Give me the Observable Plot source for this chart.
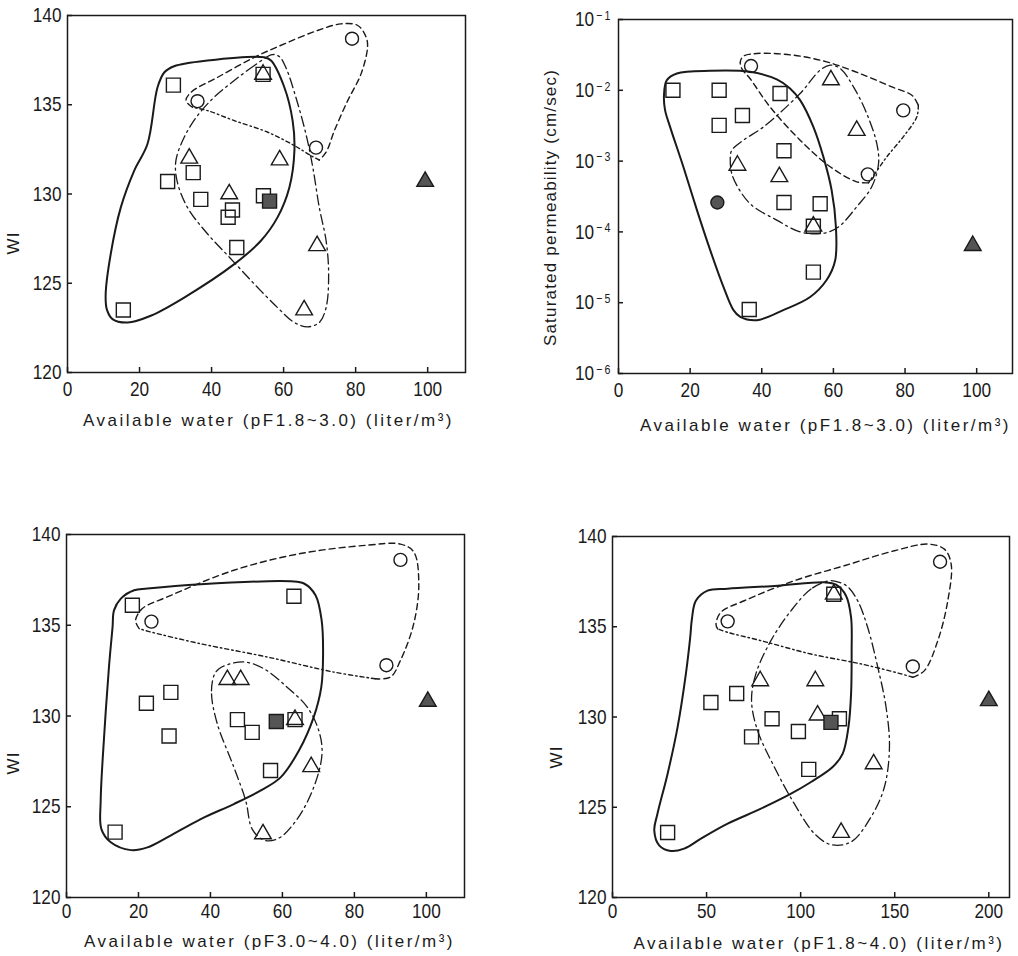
<!DOCTYPE html>
<html><head><meta charset="utf-8">
<script src="https://cdn.jsdelivr.net/npm/d3@7"></script>
<script src="https://cdn.jsdelivr.net/npm/@observablehq/plot@0.6"></script>
<style>
body{margin:0;background:#fff;}
#wrap{position:relative;width:1018px;height:956px;background:#fff;overflow:hidden}
.panel{position:absolute}
.panel svg{overflow:visible;background:transparent}
g[aria-label="x-axis tick label"] text, g[aria-label="y-axis tick label"] text{
  font-family:"Liberation Sans",Arial,sans-serif;
  font-size:21px;fill:#1a1a1a;}
</style></head><body><div id="wrap"></div>
<script>
// ---------- tick values ----------
const xTicks100 = [0, 20, 40, 60, 80, 100];
const xTicks200 = [0, 50, 100, 150, 200];
const wiTicks = [120, 125, 130, 135, 140];
const kTicks = [1e-1, 1e-2, 1e-3, 1e-4, 1e-5, 1e-6];

const label1 = "Available water (pF1.8~3.0) (liter/m³)";
const label3 = "Available water (pF3.0~4.0) (liter/m³)";
const label4 = "Available water (pF1.8~4.0) (liter/m³)";
const labelWI = "WI";
const labelK = "Saturated permeability (cm/sec)";

// ---------- Panel 1: WI vs available water pF1.8-3.0 ----------
const p1Squares = [[15.5,123.5],[29.4,136.1],[27.8,130.7],[34.9,131.2],[37.0,129.7],[45.8,129.1],[44.6,128.7],[47.0,127.0],[54.3,136.7],[54.4,129.9]];
const p1SquaresFilled = [[56.1,129.6]];
const p1Triangles = [[33.8,132.0],[44.9,130.0],[54.3,136.7],[58.9,131.9],[69.3,127.1],[65.7,123.5]];
const p1TrianglesFilled = [[99.3,130.7]];
const p1Circles = [[36.1,135.2],[69.0,132.6],[79.0,138.7]];
const p1SquareHull = [[10.9,123.55],[12.5,122.99],[16.7,122.8],[23.1,123.18],[32.4,124.2],[46.3,126.07],[53.7,127.38],[58.3,128.69],[61.6,130.37],[63.0,132.43],[62.5,134.11],[60.2,135.98],[56.5,137.48],[54.6,137.66],[38.9,137.48],[29.6,137.16],[26.9,136.82],[25.0,135.98],[22.2,132.8],[18.5,131.3],[14.8,129.25],[12.0,126.64],[10.6,124.4]];
const p1TriangleHull = [[56.9,137.81],[51.9,137.2],[46.3,136.36],[40.7,135.42],[36.1,134.39],[32.4,133.18],[30.1,131.87],[30.4,130.75],[33.3,129.25],[38.9,127.76],[45.4,126.36],[51.9,124.95],[58.3,123.64],[63.0,122.8],[66.7,122.56],[69.9,122.8],[71.8,123.64],[72.5,125.51],[71.8,127.38],[69.9,129.25],[68.1,131.5],[66.2,133.36],[63.4,135.42],[60.6,137.1],[58.8,137.7]];
const p1CircleHullDashed = [[34.7,134.86],[32.9,135.23],[34.3,135.7],[41.7,136.54],[51.9,137.66],[60.2,138.41],[69.4,139.16],[75.9,139.53],[80.6,139.44],[82.9,138.79],[83.3,138.22],[81.5,136.73],[77.8,135.23],[74.1,133.55],[71.8,132.34],[69.9,131.9]];
const p1CircleHullDotted = [[69.9,131.9],[67.6,132.15],[63.0,132.71],[55.6,133.46],[46.3,134.11],[38.9,134.67],[34.7,134.86]];

// ---------- Panel 2: saturated permeability vs available water pF1.8-3.0 ----------
const p2Squares = [[15.2,1.0e-2],[28.1,1.0e-2],[28.1,3.2e-3],[34.6,4.4e-3],[45.1,9.0e-3],[46.2,1.4e-3],[46.2,2.6e-4],[56.3,2.5e-4],[54.4,1.2e-4],[54.4,2.7e-5],[36.5,8.0e-6]];
const p2Triangles = [[33.2,8.7e-4],[44.9,6.0e-4],[59.3,1.4e-2],[66.5,2.7e-3],[54.4,1.2e-4]];
const p2TrianglesFilled = [[98.9,6.4e-5]];
const p2Circles = [[37.0,2.2e-2],[79.5,5.2e-3],[69.6,6.5e-4]];
const p2CirclesFilled = [[27.6,2.6e-4]];
// outlines as [x, log10(k)]
const p2SquareHull = [[12.7,-2.069],[13.5,-1.857],[16.3,-1.763],[25.6,-1.725],[36.7,-1.739],[44.2,-1.847],[47.9,-1.975],[50.7,-2.139],[54.4,-2.516],[57.2,-2.94],[59.5,-3.41],[60.7,-3.93],[60.5,-4.40],[58.1,-4.68],[53.5,-4.92],[46.0,-5.105],[38.6,-5.247],[34.0,-5.20],[32.1,-5.105],[29.3,-4.776],[25.6,-4.258],[21.9,-3.693],[18.1,-3.08],[14.4,-2.516],[13.0,-2.28]];
const p2TriangleHull = [[31.2,-2.987],[31.9,-3.22],[36.7,-3.60],[44.2,-3.834],[50.7,-4.0],[57.2,-4.02],[61.4,-3.93],[66.5,-3.646],[70.7,-3.363],[72.6,-3.034],[72.1,-2.751],[69.3,-2.328],[65.6,-1.951],[61.9,-1.692],[59.1,-1.645],[56.3,-1.716],[50.7,-2.045],[40.5,-2.516],[34.9,-2.704],[31.6,-2.85]];
const p2CircleHullDashed = [[69.8,-3.307],[66.5,-3.293],[59.1,-3.08],[50.7,-2.704],[42.3,-2.234],[36.7,-1.833],[34.4,-1.692],[34.0,-1.598],[34.9,-1.518],[38.6,-1.48],[48.8,-1.504],[58.1,-1.598],[67.4,-1.763],[76.7,-1.96],[81.9,-2.069],[83.7,-2.21]];
const p2CircleHullDotted = [[83.7,-2.21],[83.3,-2.375],[79.5,-2.657],[74.9,-2.94],[71.6,-3.175],[69.8,-3.307]];

// ---------- Panel 3: WI vs available water pF3.0-4.0 ----------
const p3Squares = [[13.5,123.6],[18.3,136.1],[22.2,130.7],[29.0,131.3],[28.5,128.9],[47.5,129.8],[51.6,129.1],[56.7,127.0],[63.2,136.6],[63.5,129.8]];
const p3SquaresFilled = [[58.3,129.7]];
const p3Triangles = [[44.7,132.0],[48.4,132.0],[63.5,129.8],[68.0,127.2],[54.6,123.5]];
const p3TrianglesFilled = [[100.4,130.8]];
const p3Circles = [[23.6,135.2],[88.9,132.8],[92.8,138.6]];
const p3SquareHull = [[13.2,135.82],[15.1,136.47],[18.8,136.93],[22.5,137.02],[37.3,137.26],[62.3,137.42],[66.0,137.30],[69.2,136.65],[70.9,135.27],[71.3,133.43],[70.8,131.59],[68.7,129.94],[64.6,128.1],[59.5,126.62],[53.9,125.89],[46.5,125.15],[37.3,124.32],[28.0,123.31],[22.5,122.76],[17.9,122.61],[12.3,123.04],[9.7,123.77],[9.5,125.34],[10.5,129.02],[11.8,132.7],[12.8,134.9]];
const p3TriangleHull = [[41.0,132.24],[40.3,131.22],[41.9,129.57],[46.5,127.18],[49.8,125.34],[51.6,123.77],[54.9,123.16],[59.0,123.27],[64.1,124.32],[68.7,126.07],[71.0,127.91],[70.1,129.2],[66.9,130.49],[61.3,131.59],[54.9,132.6],[49.8,132.97],[45.6,132.88],[42.4,132.6]];
const p3CircleHullDashed = [[20.2,134.81],[19.2,135.27],[21.1,135.92],[28.0,136.56],[46.5,138.03],[65.0,138.95],[83.5,139.41],[92.8,139.47],[96.5,139.04],[97.9,137.3],[96.5,135.09],[92.8,133.06],[90.0,132.14],[85.8,132.05]];
const p3CircleHullDotted = [[85.8,132.05],[74.3,132.42],[55.8,133.25],[37.3,133.98],[23.4,134.63],[20.2,134.81]];

// ---------- Panel 4: WI vs available water pF1.8-4.0 ----------
const p4Squares = [[29.3,123.6],[52.3,130.8],[66.0,131.3],[73.9,128.9],[84.8,129.9],[98.8,129.2],[104.3,127.1],[120.6,129.9],[117.6,136.8]];
const p4SquaresFilled = [[116.1,129.7]];
const p4Triangles = [[78.5,132.0],[107.8,132.0],[109.0,130.1],[117.6,136.8],[138.8,127.4],[121.5,123.6]];
const p4TrianglesFilled = [[200.0,130.9]];
const p4Circles = [[61.2,135.3],[159.6,132.8],[174.1,138.6]];
const p4SquareHull = [[42.2,135.43],[44.3,136.44],[50.5,137.0],[61.2,137.11],[87.8,137.27],[112.6,137.46],[118.8,137.33],[124.1,136.72],[126.8,135.52],[127.1,133.68],[126.8,131.28],[125.4,129.44],[122.3,127.96],[117.0,127.23],[105.5,126.40],[94.9,125.75],[78.9,124.92],[61.2,124.09],[47.0,123.26],[38.1,122.71],[31.0,122.58],[24.8,122.89],[22.2,123.72],[23.9,124.64],[29.3,126.86],[34.6,129.44],[39.0,132.39],[41.3,134.41]];
const p4TriangleHull = [[115.2,137.55],[105.5,137.09],[94.9,135.89],[84.2,134.23],[76.2,132.39],[73.9,130.91],[77.1,129.25],[86.0,127.23],[96.6,125.2],[107.3,123.54],[116.1,122.93],[126.8,123.08],[137.4,124.46],[144.5,126.12],[147.2,128.33],[145.4,130.54],[141.0,132.76],[135.6,134.97],[130.3,136.44],[125.0,137.22],[120.6,137.46]];
const p4CircleHullDashed = [[55.9,134.88],[55.0,135.15],[57.6,135.80],[70.0,136.44],[96.6,137.55],[123.2,138.38],[149.8,139.21],[167.6,139.58],[176.4,139.3],[180.0,138.47],[178.2,136.44],[172.9,134.23],[165.8,132.57],[159.6,132.2]];
const p4CircleHullDotted = [[159.6,132.2],[153.4,132.39],[132.1,132.94],[105.5,133.49],[78.9,134.23],[61.2,134.69],[55.9,134.88]];

// ---------- drawing ----------
const ink = "#1a1a1a";
const X = d => d[0];
const Yv = d => d[1];
const Ylog = d => 10 ** d[1];
const labelFont = "'Liberation Sans', Arial, sans-serif";

function panel(o) {
  const fw = o.width - o.ml - o.mr;
  const fh = o.height - o.mt - o.mb;
  const HY = o.log ? Ylog : Yv;
  const marks = [
    Plot.line(o.sqHull, {x: X, y: HY, curve: "catmull-rom-closed", stroke: ink, strokeWidth: 2}),
    Plot.line(o.triHull, {x: X, y: HY, curve: "catmull-rom-closed", stroke: ink, strokeWidth: 1.3, strokeDasharray: "10,4,2,4"}),
    Plot.line(o.ciHullA, {x: X, y: HY, curve: "catmull-rom", stroke: ink, strokeWidth: 1.4, strokeDasharray: "6,4"}),
    Plot.line(o.ciHullB, {x: X, y: HY, curve: "catmull-rom", stroke: ink, strokeWidth: 1.4, strokeDasharray: "4,3,1.5,3"}),
    Plot.dot(o.sq, {x: X, y: Yv, symbol: "square", r: 7.9, stroke: ink, strokeWidth: 1.4, fill: "none"}),
    Plot.dot(o.tri, {x: X, y: Yv, symbol: "triangle", r: 6.2, stroke: ink, strokeWidth: 1.4, fill: "none"}),
    Plot.dot(o.ci, {x: X, y: Yv, symbol: "circle", r: 6.5, stroke: ink, strokeWidth: 1.4, fill: "none"}),
    Plot.dot(o.sqF || [], {x: X, y: Yv, symbol: "square", r: 7.9, stroke: ink, strokeWidth: 1.4, fill: "#555"}),
    Plot.dot(o.triF || [], {x: X, y: Yv, symbol: "triangle", r: 6.2, stroke: ink, strokeWidth: 1.4, fill: "#555"}),
    Plot.dot(o.ciF || [], {x: X, y: Yv, symbol: "circle", r: 6.5, stroke: ink, strokeWidth: 1.4, fill: "#555"}),
    Plot.frame({stroke: ink, strokeWidth: 1.5}),
    Plot.ruleX(o.xTicks, {x: d => d, insetTop: fh - 5, stroke: ink, strokeWidth: 1.5}),
    Plot.ruleY(o.yTicks, {y: d => d, insetRight: fw - 5, stroke: ink, strokeWidth: 1.5}),
    Plot.axisX({ticks: o.xTicks, tickSize: 0, tickPadding: o.xPad, label: null, tickFormat: d => String(d)}),
    Plot.axisY({ticks: o.yTicks, tickSize: 0, tickPadding: o.yPad, label: null,
      tickFormat: o.log ? (d => String(Math.round(Math.log10(d)))) : (d => String(d))}),
    Plot.text([o.xLabel], {text: d => d, frameAnchor: "bottom", dy: o.xLabDy, dx: o.xLabDx || 0,
      lineAnchor: "middle", textAnchor: "middle", fontSize: 17, fontFamily: labelFont, fill: ink}),
    Plot.text([o.yLabel], {text: d => d, frameAnchor: "left", rotate: -90, dx: o.yLabDx, dy: o.yLabDy,
      lineAnchor: "middle", textAnchor: "middle", fontSize: 17, fontFamily: labelFont, fill: ink})
  ];
  const svg = Plot.plot({
    width: o.width, height: o.height,
    marginLeft: o.ml, marginRight: o.mr, marginTop: o.mt, marginBottom: o.mb,
    x: {domain: o.xDomain},
    y: o.log ? {type: "log", domain: o.yDomain} : {domain: o.yDomain},
    style: {background: "transparent", color: ink},
    marks
  });
  const s = d3.select(svg);
  // condensed tick digits
  s.selectAll('g[aria-label="x-axis tick label"] text, g[aria-label="y-axis tick label"] text').each(function() {
    const t = d3.select(this);
    const tr = t.attr("transform") || "";
    t.attr("transform", tr + " scale(0.82,1)");
  });
  if (o.log) {
    s.selectAll('g[aria-label="y-axis tick label"] text').each(function() {
      const t = d3.select(this);
      const e = Math.abs(parseInt(t.text().replace("\u2212", "-"), 10));
      t.text(null);
      t.append("tspan").text("10");
      t.append("tspan").attr("dy", "-0.5em").style("font-size", "13px").text("\u2009\u2212\u2009" + e);
    });
  }
  // letter spacing of axis titles
  s.selectAll("text").filter(function() { return this.textContent === o.xLabel; }).style("letter-spacing", o.xLs + "px");
  s.selectAll("text").filter(function() { return this.textContent === o.yLabel; }).style("letter-spacing", o.yLs + "px");
  const div = document.createElement("div");
  div.className = "panel";
  div.style.left = o.left + "px";
  div.style.top = o.top + "px";
  div.appendChild(svg);
  document.getElementById("wrap").appendChild(div);
}

panel({left: 0, top: 0, width: 510, height: 440, ml: 67, mr: 45, mt: 15, mb: 68,
  xDomain: [0, 110.5], yDomain: [120, 140], xTicks: xTicks100, yTicks: wiTicks, xPad: 9, yPad: 6,
  sq: p1Squares, sqF: p1SquaresFilled, tri: p1Triangles, triF: p1TrianglesFilled, ci: p1Circles,
  sqHull: p1SquareHull, triHull: p1TriangleHull, ciHullA: p1CircleHullDashed, ciHullB: p1CircleHullDotted,
  xLabel: label1, xLabDy: 48, xLabDx: 2, xLs: 2.5, yLabel: labelWI, yLabDx: -54, yLabDy: 49, yLs: 1});

panel({left: 510, top: 0, width: 508, height: 440, ml: 108, mr: 6, mt: 19, mb: 67, log: true,
  xDomain: [0, 110], yDomain: [1e-6, 1e-1], xTicks: xTicks100, yTicks: kTicks, xPad: 9, yPad: 8,
  sq: p2Squares, tri: p2Triangles, triF: p2TrianglesFilled, ci: p2Circles, ciF: p2CirclesFilled,
  sqHull: p2SquareHull, triHull: p2TriangleHull, ciHullA: p2CircleHullDashed, ciHullB: p2CircleHullDotted,
  xLabel: label1, xLabDy: 52, xLabDx: 10, xLs: 2.5, yLabel: labelK, yLabDx: -68, yLabDy: 11, yLs: 1.2});

panel({left: 0, top: 500, width: 510, height: 456, ml: 66, mr: 46, mt: 34, mb: 59,
  xDomain: [0, 110.6], yDomain: [120, 140], xTicks: xTicks100, yTicks: wiTicks, xPad: 6, yPad: 6,
  sq: p3Squares, sqF: p3SquaresFilled, tri: p3Triangles, triF: p3TrianglesFilled, ci: p3Circles,
  sqHull: p3SquareHull, triHull: p3TriangleHull, ciHullA: p3CircleHullDashed, ciHullB: p3CircleHullDotted,
  xLabel: label3, xLabDy: 44, xLabDx: 4, xLs: 2.5, yLabel: labelWI, yLabDx: -53, yLabDy: 47, yLs: 1});

panel({left: 510, top: 500, width: 508, height: 456, ml: 102, mr: 9, mt: 36, mb: 59,
  xDomain: [0, 211], yDomain: [120, 140], xTicks: xTicks200, yTicks: wiTicks, xPad: 6, yPad: 6,
  sq: p4Squares, sqF: p4SquaresFilled, tri: p4Triangles, triF: p4TrianglesFilled, ci: p4Circles,
  sqHull: p4SquareHull, triHull: p4TriangleHull, ciHullA: p4CircleHullDashed, ciHullB: p4CircleHullDotted,
  xLabel: label4, xLabDy: 46, xLabDx: 8, xLs: 2.5, yLabel: labelWI, yLabDx: -56, yLabDy: 40, yLs: 1});
</script></body></html>
